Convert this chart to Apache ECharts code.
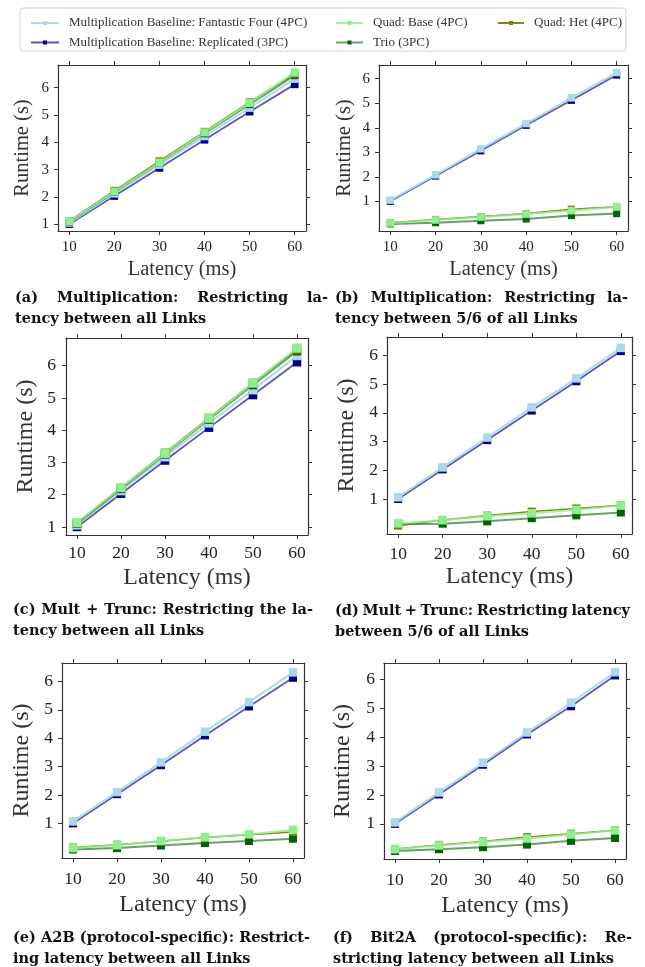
<!DOCTYPE html>
<html><head><meta charset="utf-8">
<script src="https://cdn.jsdelivr.net/npm/echarts@6/dist/echarts.min.js"></script>
<style>html,body{margin:0;padding:0;background:#fff}#c{width:645px;height:967px}</style>
</head><body><div id="c"></div>
<script>
// ---------- DATA ----------
const latency = [10, 20, 30, 40, 50, 60];
const xTicks = [10, 20, 30, 40, 50, 60];
const yTicks = [1, 2, 3, 4, 5, 6];

const NAME_FF = 'Multiplication Baseline: Fantastic Four (4PC)';
const NAME_REPL = 'Multiplication Baseline: Replicated (3PC)';
const NAME_QB = 'Quad: Base (4PC)';
const NAME_HET = 'Quad: Het (4PC)';
const NAME_TRIO = 'Trio (3PC)';

// (a) Multiplication, all links
const ffA       = [1.05, 2.12, 3.17, 4.22, 5.26, 6.32];
const replA     = [1.00, 2.03, 3.06, 4.09, 5.12, 6.12];
const quadBaseA = [1.11, 2.19, 3.26, 4.36, 5.44, 6.56];
const hetA      = [1.12, 2.23, 3.31, 4.39, 5.47, 6.50];
const trioA     = [1.09, 2.17, 3.25, 4.32, 5.39, 6.45];
// (b) Multiplication, 5/6 of links
const ffB       = [1.05, 2.08, 3.14, 4.17, 5.22, 6.25];
const replB     = [1.00, 2.03, 3.06, 4.10, 5.12, 6.15];
const quadBaseB = [0.12, 0.24, 0.36, 0.48, 0.62, 0.77];
const hetB      = [0.13, 0.26, 0.38, 0.50, 0.68, 0.78];
const trioB     = [0.08, 0.13, 0.21, 0.28, 0.42, 0.50];
// (c) Mult + Trunc, all links
const ffC       = [1.06, 2.12, 3.17, 4.22, 5.25, 6.31];
const replC     = [1.00, 2.03, 3.06, 4.08, 5.09, 6.11];
const quadBaseC = [1.13, 2.22, 3.28, 4.37, 5.46, 6.55];
const hetC      = [1.12, 2.21, 3.30, 4.38, 5.47, 6.50];
const trioC     = [1.10, 2.18, 3.25, 4.33, 5.40, 6.45];
// (d) Mult + Trunc, 5/6 of links
const ffD       = [1.06, 2.10, 3.14, 4.19, 5.20, 6.26];
const replD     = [1.00, 2.03, 3.05, 4.08, 5.10, 6.15];
const quadBaseD = [0.15, 0.26, 0.40, 0.50, 0.62, 0.77];
const hetD      = [0.07, 0.27, 0.42, 0.56, 0.67, 0.78];
const trioD     = [0.12, 0.14, 0.22, 0.33, 0.43, 0.53];
// (e) A2B
const ffE       = [1.07, 2.10, 3.15, 4.23, 5.27, 6.32];
const replE     = [1.00, 2.03, 3.05, 4.10, 5.12, 6.13];
const quadBaseE = [0.13, 0.23, 0.38, 0.51, 0.62, 0.77];
const hetE      = [0.15, 0.25, 0.37, 0.50, 0.60, 0.70];
const trioE     = [0.08, 0.13, 0.22, 0.31, 0.38, 0.46];
// (f) Bit2A
const ffF       = [1.05, 2.09, 3.12, 4.17, 5.20, 6.26];
const replF     = [1.00, 2.02, 3.05, 4.10, 5.08, 6.15];
const quadBaseF = [0.12, 0.25, 0.37, 0.49, 0.63, 0.77];
const hetF      = [0.13, 0.27, 0.39, 0.54, 0.66, 0.78];
const trioF     = [0.06, 0.12, 0.19, 0.28, 0.41, 0.51];

const captions = [
  ['(a) Multiplication: Restricting la-', 'tency between all Links'],
  ['(b) Multiplication: Restricting la-', 'tency between 5/6 of all Links'],
  ['(c) Mult + Trunc: Restricting the la-', 'tency between all Links'],
  ['(d) Mult + Trunc: Restricting latency', 'between 5/6 of all Links'],
  ['(e) A2B (protocol-specific): Restrict-', 'ing latency between all Links'],
  ['(f) Bit2A (protocol-specific): Re-', 'stricting latency between all Links']
];

// ---------- LAYOUT / STYLE ----------
const panelData = [
  {ff: ffA, repl: replA, qb: quadBaseA, het: hetA, trio: trioA},
  {ff: ffB, repl: replB, qb: quadBaseB, het: hetB, trio: trioB},
  {ff: ffC, repl: replC, qb: quadBaseC, het: hetC, trio: trioC},
  {ff: ffD, repl: replD, qb: quadBaseD, het: hetD, trio: trioD},
  {ff: ffE, repl: replE, qb: quadBaseE, het: hetE, trio: trioE},
  {ff: ffF, repl: replF, qb: quadBaseF, het: hetF, trio: trioF}
];
const layout = [
  {left: 58,  top: 65,  width: 248, height: 166, ymin: 0.75,  ymax: 6.83, tick: 15,   title: 20.5, xm: 8.5, xg: 28,   ym: 9,  yg: 25,   cx0: 15,  cx1: 328, cy: 298, ms: 8},
  {left: 379, top: 65,  width: 249, height: 166, ymin: -0.21, ymax: 6.56, tick: 15,   title: 20.5, xm: 8.5, xg: 28,   ym: 9,  yg: 23.5, cx0: 335, cx1: 628, cy: 298, ms: 7.5},
  {left: 66,  top: 338, width: 242, height: 197, ymin: 0.75,  ymax: 6.86, tick: 17.5, title: 24,   xm: 9.5, xg: 31,   ym: 10, yg: 28.5, cx0: 13,  cx1: 313, cy: 610, ms: 9},
  {left: 387, top: 337, width: 245, height: 197, ymin: -0.22, ymax: 6.64, tick: 17.5, title: 24,   xm: 11,  xg: 31,   ym: 9,  yg: 28.5, cx0: 335, cx1: 630, cy: 611, ms: 8.5},
  {left: 62,  top: 663, width: 242, height: 195, ymin: -0.22, ymax: 6.65, tick: 17.5, title: 24,   xm: 12,  xg: 34.5, ym: 9,  yg: 28.5, cx0: 13,  cx1: 310, cy: 938, ms: 8.5},
  {left: 384, top: 663, width: 242, height: 196, ymin: -0.22, ymax: 6.58, tick: 17.5, title: 24,   xm: 12,  xg: 34.5, ym: 9,  yg: 29,   cx0: 333, cx1: 632, cy: 938, ms: 8.5}
];
const styles = {
  repl: {name: NAME_REPL, color: '#00008b', width: 1.8, opacity: 0.65, scale: 0.95},
  ff:   {name: NAME_FF,   color: '#add8e6', width: 2,   opacity: 0.95, scale: 1},
  trio: {name: NAME_TRIO, color: '#006400', width: 2,   opacity: 0.6,  scale: 0.95},
  het:  {name: NAME_HET,  color: '#808000', width: 1.5, opacity: 0.95, scale: 0.95},
  qb:   {name: NAME_QB,   color: '#90ee90', width: 2,   opacity: 0.85, scale: 1}
};
const drawOrder = ['repl', 'ff', 'trio', 'het', 'qb'];
const SERIF = '"Liberation Serif", "Times New Roman", serif';
const AX = '#333';

const grid = [], xAxis = [], yAxis = [], series = [];
layout.forEach((L, i) => {
  grid.push({left: L.left, top: L.top, width: L.width, height: L.height, containLabel: false});
  const common = {
    type: 'value', gridIndex: i,
    axisLine: {show: true, onZero: false, lineStyle: {color: AX, width: 1.2}},
    splitLine: {show: false}
  };
  xAxis.push(Object.assign({}, common, {
    position: 'bottom', min: 7.5, max: 62.5,
    axisTick: {show: true, inside: false, length: 4, customValues: xTicks, lineStyle: {color: AX}},
    axisLabel: {customValues: xTicks, fontFamily: SERIF, fontSize: L.tick, color: '#222', margin: L.xm},
    name: 'Latency (ms)', nameLocation: 'middle', nameGap: L.xg,
    nameTextStyle: {fontFamily: SERIF, fontSize: L.title, color: '#333'}
  }));
  xAxis.push(Object.assign({}, common, {
    position: 'top', min: 7.5, max: 62.5,
    axisTick: {show: true, inside: false, length: 4, customValues: xTicks, lineStyle: {color: AX}},
    axisLabel: {show: false}
  }));
  yAxis.push(Object.assign({}, common, {
    position: 'left', min: L.ymin, max: L.ymax,
    axisTick: {show: true, inside: false, length: 4, customValues: yTicks, lineStyle: {color: AX}},
    axisLabel: {customValues: yTicks, fontFamily: SERIF, fontSize: L.tick, color: '#222', margin: L.ym},
    name: 'Runtime (s)', nameLocation: 'middle', nameGap: L.yg,
    nameTextStyle: {fontFamily: SERIF, fontSize: L.title, color: '#333'}
  }));
  yAxis.push(Object.assign({}, common, {
    position: 'right', min: L.ymin, max: L.ymax,
    axisTick: {show: true, inside: false, length: 4, customValues: yTicks, lineStyle: {color: AX}},
    axisLabel: {show: false}
  }));
  const P = panelData[i];
  drawOrder.forEach(k => {
    const s = styles[k];
    series.push({
      type: 'line', name: s.name,
      xAxisIndex: 2 * i, yAxisIndex: 2 * i,
      data: latency.map((x, j) => [x, P[k][j]]),
      symbol: 'rect', symbolSize: L.ms * s.scale,
      showSymbol: true,
      lineStyle: {color: s.color, width: s.width, opacity: s.opacity},
      itemStyle: {color: s.color, opacity: 1},
      emphasis: {disabled: true},
      silent: true
    });
  });
});

// ---------- CAPTIONS (justified first line) ----------
const CAP_FONT_SIZE = 14.5;
const CAP_FONT = 'bold ' + CAP_FONT_SIZE + 'px "DejaVu Serif"';
const mctx = document.createElement('canvas').getContext('2d');
mctx.font = CAP_FONT;
const graphic = [];
graphic.push({
  type: 'rect', z: 0,
  shape: {x: 20, y: 8, width: 606, height: 43, r: 3},
  style: {fill: '#fff', stroke: '#d4d4d4', lineWidth: 1}
});
captions.forEach((c, i) => {
  const L = layout[i];
  const words = c[0].split(' ');
  const widths = words.map(w => mctx.measureText(w).width);
  const sum = widths.reduce((a, b) => a + b, 0);
  const gap = (L.cx1 - L.cx0 - sum) / (words.length - 1);
  let x = L.cx0;
  words.forEach((w, j) => {
    graphic.push({type: 'text', x: x, y: L.cy,
      style: {text: w, font: CAP_FONT, fill: '#111', textAlign: 'left', textVerticalAlign: 'middle'}});
    x += widths[j] + gap;
  });
  graphic.push({type: 'text', x: L.cx0, y: L.cy + 21,
    style: {text: c[1], font: CAP_FONT, fill: '#111', textAlign: 'left', textVerticalAlign: 'middle'}});
});

const legendText = {fontFamily: SERIF, fontSize: 13, color: '#333', lineHeight: 14, padding: [0, 0, 0, 5]};
const legend = [
  {left: 25, top: 11, orient: 'vertical', itemWidth: 28, itemHeight: 5, itemGap: 5.5,
   data: [NAME_FF, NAME_REPL], textStyle: legendText, selectedMode: false},
  {left: 330, top: 11, orient: 'vertical', itemWidth: 27, itemHeight: 5, itemGap: 5.5,
   data: [NAME_QB, NAME_TRIO], textStyle: legendText, selectedMode: false},
  {left: 492, top: 11, orient: 'vertical', itemWidth: 26, itemHeight: 5, itemGap: 5.5,
   data: [NAME_HET], textStyle: legendText, selectedMode: false}
];

const chart = echarts.init(document.getElementById('c'), null, {renderer: 'canvas'});
chart.setOption({
  animation: false,
  backgroundColor: '#fff',
  grid, xAxis, yAxis, series, legend, graphic
});
</script>
</body></html>
